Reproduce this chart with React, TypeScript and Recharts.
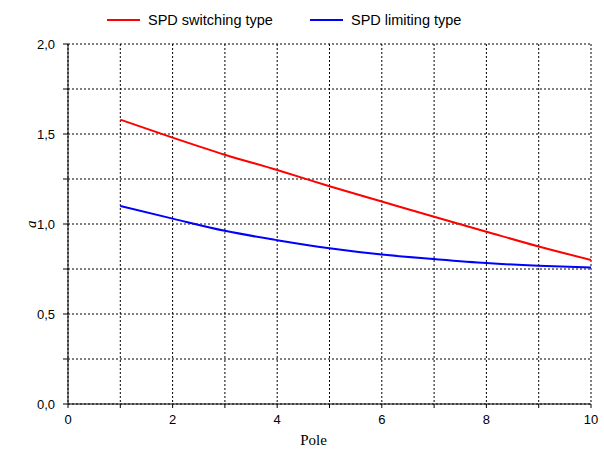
import { LineChart, Line, XAxis, YAxis, CartesianGrid } from 'recharts';

// pole number along the line
const poles = [1, 2, 3, 4, 5, 6, 7, 8, 9, 10];
// coefficient a for each SPD type
const switchingType = [1.58, 1.48, 1.385, 1.3, 1.21, 1.125, 1.04, 0.957, 0.875, 0.8];
const limitingType = [1.1, 1.03, 0.962, 0.91, 0.865, 0.83, 0.805, 0.783, 0.768, 0.758];

const xTicks = [0, 1, 2, 3, 4, 5, 6, 7, 8, 9, 10];
const yTicks = [0, 0.25, 0.5, 0.75, 1, 1.25, 1.5, 1.75, 2];

const data = poles.map((p, i) => ({
  pole: p,
  switching: switchingType[i],
  limiting: limitingType[i],
}));

const tickFont = { fill: '#000', fontSize: 13, fontFamily: 'Liberation Sans, Arial, sans-serif' };
const axisStroke = { stroke: '#000', strokeWidth: 1 };

const fmtX = (v: number) => (v % 2 === 0 ? String(v) : '');
const fmtY = (v: number) => (Math.round(v * 100) % 50 === 0 ? v.toFixed(1).replace('.', ',') : '');

const LegendItem = ({ color, label, left }: { color: string; label: string; left: number }) => (
  <div style={{ position: 'absolute', left, top: 12, display: 'flex', alignItems: 'center' }}>
    <div style={{ width: 33, height: 2, background: color, marginRight: 8 }} />
    <span style={{ fontFamily: 'Liberation Sans, Arial, sans-serif', fontSize: 14.5, color: '#000' }}>{label}</span>
  </div>
);

const App = () => {
  return (
    <div style={{ position: 'absolute', left: 0, top: 0, width: 604, height: 450, background: '#fff' }}>
      <LineChart width={604} height={450} data={data} margin={{ top: 44, right: 13, bottom: 0, left: 0 }}>
        <CartesianGrid xAxisId="bottom" yAxisId="left" stroke="#000" strokeDasharray="2 2" strokeWidth={1} />
        <XAxis
          xAxisId="bottom"
          type="number"
          dataKey="pole"
          domain={[0, 10]}
          ticks={xTicks}
          tickFormatter={fmtX}
          tick={tickFont}
          axisLine={axisStroke}
          tickLine={axisStroke}
          tickSize={4}
          tickMargin={7}
          height={46}
          label={{ value: 'Pole', position: 'insideBottom', offset: 5, dx: -16, style: { fill: '#000', fontFamily: 'Liberation Serif, Times New Roman, serif', fontSize: 15 } }}
        />
        <XAxis
          xAxisId="top"
          orientation="top"
          type="number"
          dataKey="pole"
          domain={[0, 10]}
          ticks={xTicks}
          tickFormatter={() => ''}
          axisLine={axisStroke}
          tickLine={axisStroke}
          tickSize={4}
          mirror
          height={0}
        />
        <YAxis
          yAxisId="left"
          type="number"
          domain={[0, 2]}
          ticks={yTicks}
          tickFormatter={fmtY}
          tick={tickFont}
          axisLine={axisStroke}
          tickLine={axisStroke}
          tickSize={5}
          tickMargin={8}
          width={68}
          label={{ value: 'a', angle: -90, position: 'insideLeft', offset: 31, dy: 4, style: { fill: '#000', fontFamily: 'Liberation Serif, Times New Roman, serif', fontStyle: 'italic', fontSize: 15 } }}
        />
        <YAxis
          yAxisId="right"
          orientation="right"
          type="number"
          domain={[0, 2]}
          ticks={yTicks}
          tickFormatter={() => ''}
          axisLine={axisStroke}
          tickLine={axisStroke}
          tickSize={4}
          width={0}
        />
        <Line
          xAxisId="bottom"
          yAxisId="left"
          type="monotone"
          dataKey="switching"
          stroke="#ff0000"
          strokeWidth={2}
          dot={false}
          isAnimationActive={false}
        />
        <Line
          xAxisId="bottom"
          yAxisId="left"
          type="monotone"
          dataKey="limiting"
          stroke="#0000ff"
          strokeWidth={2}
          dot={false}
          isAnimationActive={false}
        />
      </LineChart>
      <LegendItem color="#ff0000" label="SPD switching type" left={107} />
      <LegendItem color="#0000ff" label="SPD limiting type" left={310} />
    </div>
  );
};

export default App;
